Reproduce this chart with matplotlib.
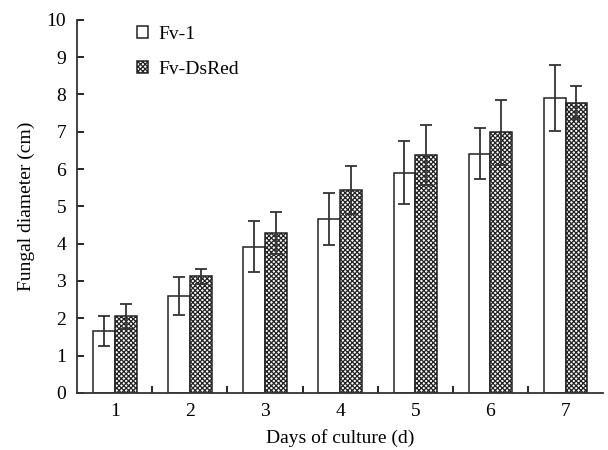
"""Fungal diameter over culture days, Fv-1 vs Fv-DsRed."""

import matplotlib

matplotlib.use("Agg")
import matplotlib.pyplot as plt
from matplotlib.ticker import FixedLocator
import numpy as np

days = ["1", "2", "3", "4", "5", "6", "7"]
fv1_mean = [1.66, 2.60, 3.92, 4.65, 5.90, 6.41, 7.91]
fv1_err = [0.41, 0.51, 0.68, 0.70, 0.85, 0.69, 0.89]
dsred_mean = [2.05, 3.12, 4.28, 5.44, 6.38, 6.98, 7.78]
dsred_err = [0.33, 0.20, 0.56, 0.64, 0.80, 0.87, 0.44]

plt.rcParams["font.family"] = ["Liberation Serif", "DejaVu Serif"]
plt.rcParams["hatch.linewidth"] = 0.9

fig = plt.figure(figsize=(6.08, 4.5), dpi=100)
ax = fig.add_axes([0.127, 0.127, 0.865, 0.829])

x = np.arange(len(days))
w = 0.29
err_kw = dict(ecolor="#333333", elinewidth=1.3, capsize=4.5, capthick=1.3)
ax.bar(x - w / 2, fv1_mean, w, yerr=fv1_err, color="white",
       edgecolor="#222222", linewidth=1.1, label="Fv-1", error_kw=err_kw)
ax.bar(x + w / 2, dsred_mean, w, yerr=dsred_err, color="white",
       edgecolor="#222222", linewidth=1.1, hatch="xxxxxxx", label="Fv-DsRed",
       error_kw=err_kw)

ax.set_xlim(-0.5, len(days) - 0.5)
ax.set_ylim(0, 10)
ax.set_xticks(x)
ax.set_xticklabels(days)
ax.xaxis.set_minor_locator(FixedLocator(np.arange(0.5, len(days) - 0.5, 1)))
ax.tick_params(axis="x", which="major", length=0, labelsize=14, pad=7)
ax.tick_params(axis="x", which="minor", direction="in", length=5, width=1.2)
ax.set_yticks(range(0, 11))
ax.tick_params(axis="y", direction="in", length=5, width=1.2, labelsize=14,
               pad=8)

for s in ("top", "right"):
    ax.spines[s].set_visible(False)
for s in ("left", "bottom"):
    ax.spines[s].set_linewidth(1.3)
    ax.spines[s].set_color("#333333")

ax.set_xlabel("Days of culture (d)", fontsize=14, labelpad=7)
ax.set_ylabel("Fungal diameter (cm)", fontsize=14, labelpad=8)

ax.legend(loc="upper left", bbox_to_anchor=(0.08, 1.03), frameon=False,
          fontsize=14, handlelength=0.6, handleheight=0.6,
          handletextpad=0.5, labelspacing=0.9)

fig.savefig("out.png", dpi=100)
plt.close(fig)
